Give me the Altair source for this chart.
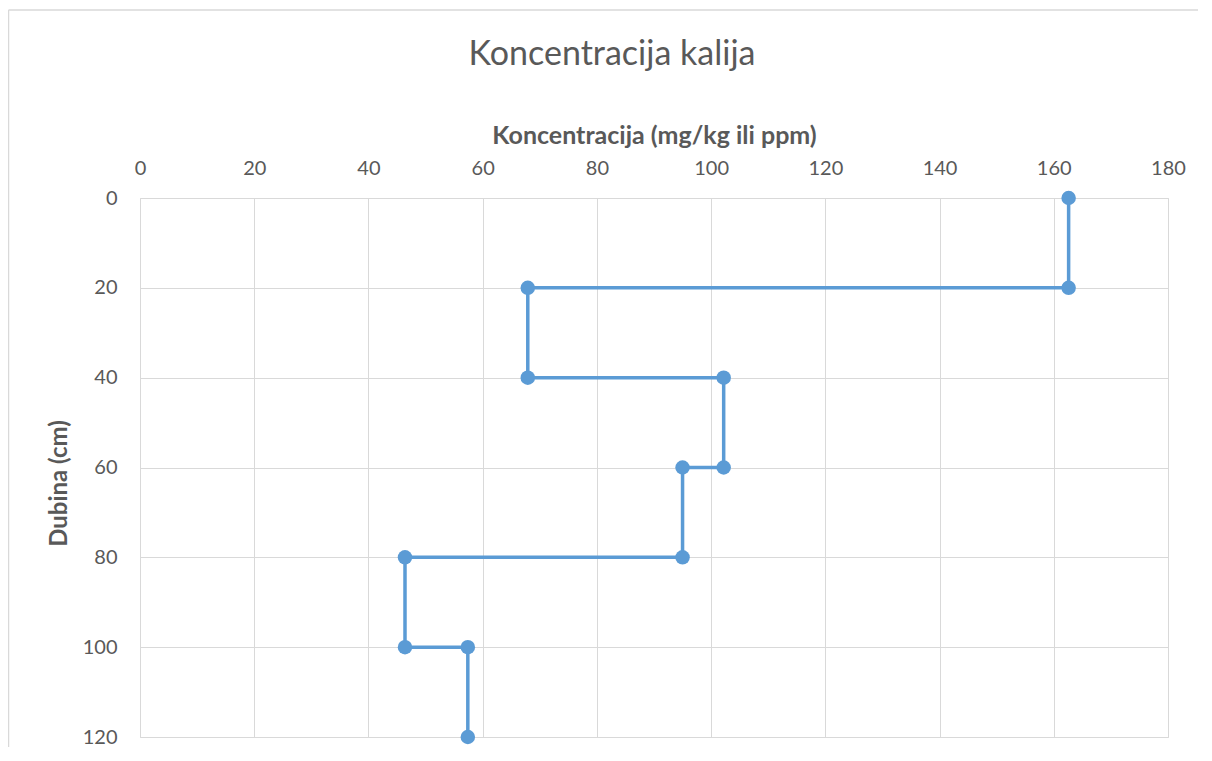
import altair as alt
import pandas as pd

# Step profile of potassium concentration vs depth
depth = [0, 20, 20, 40, 40, 60, 60, 80, 80, 100, 100, 120]
conc = [162.6, 162.6, 67.9, 67.9, 102.2, 102.2, 95.0, 95.0, 46.4, 46.4, 57.4, 57.4]
order = list(range(len(depth)))

x_ticks = [0, 20, 40, 60, 80, 100, 120, 140, 160, 180]
y_ticks = [0, 20, 40, 60, 80, 100, 120]
chart_title = ["Koncentracija kalija"]

df = pd.DataFrame({"conc": conc, "depth": depth, "order": order})

GRAY = "#595959"
GRID = "#d9d9d9"
BLUE = "#5b9bd5"
FONT = "Lato"

x_enc = alt.X(
    "conc:Q",
    scale=alt.Scale(domain=[0, 180], nice=False, zero=False),
    axis=alt.Axis(
        orient="top", values=x_ticks, title="Koncentracija (mg/kg ili ppm)",
        grid=True, gridColor=GRID, gridWidth=1, ticks=False, tickSize=0,
        domain=False, labelPadding=20, labelFontSize=20, labelColor=GRAY,
        labelFont=FONT, labelFlush=False, titleFont=FONT, titleFontSize=25,
        titleFontWeight="bold", titleColor=GRAY, titlePadding=10,
    ),
)
y_enc = alt.Y(
    "depth:Q",
    scale=alt.Scale(domain=[0, 120], reverse=True, nice=False, zero=False),
    axis=alt.Axis(
        values=y_ticks, title="Dubina (cm)", grid=True, gridColor=GRID,
        gridWidth=1, ticks=False, tickSize=0, domain=False, labelPadding=23,
        labelFontSize=20, labelColor=GRAY, labelFont=FONT, labelFlush=False,
        titleFont=FONT, titleFontSize=24, titleFontWeight="bold", titleColor=GRAY,
        titlePadding=11, titleY=285,
    ),
)

base = alt.Chart(df).encode(x=x_enc, y=y_enc, order="order:Q")
line = base.mark_line(color=BLUE, strokeWidth=3.5)
points = base.mark_point(filled=True, color=BLUE, size=210, opacity=1, shape="circle")

# chart title as a text mark placed over the whole chart area
title_df = pd.DataFrame({"t": chart_title})
title = alt.Chart(title_df).mark_text(
    font=FONT, fontSize=34, color=GRAY, align="center", baseline="middle"
).encode(text="t:N", x=alt.value(472), y=alt.value(-143))

# decorative chart-area border (left and top edges)
border_df = pd.DataFrame({"k": [0]})
left_border = alt.Chart(border_df).mark_rule(color=GRID, strokeWidth=1.5).encode(
    x=alt.value(-131.5), y=alt.value(-188), y2=alt.value(560)
)
top_border = alt.Chart(border_df).mark_rule(color=GRID, strokeWidth=1.5).encode(
    x=alt.value(-131.5), x2=alt.value(1070), y=alt.value(-188)
)

chart = (
    alt.layer(left_border, top_border, title, line, points)
    .properties(
        width=1028,
        height=539,
        autosize=alt.AutoSizeParams(type="none"),
        padding={"left": 132, "top": 190, "right": 30, "bottom": 10},
    )
    .configure_view(stroke=GRID, strokeWidth=1)
    .configure(background="white")
)

chart.save("out.html", embed_options={"renderer": "svg", "actions": False})
